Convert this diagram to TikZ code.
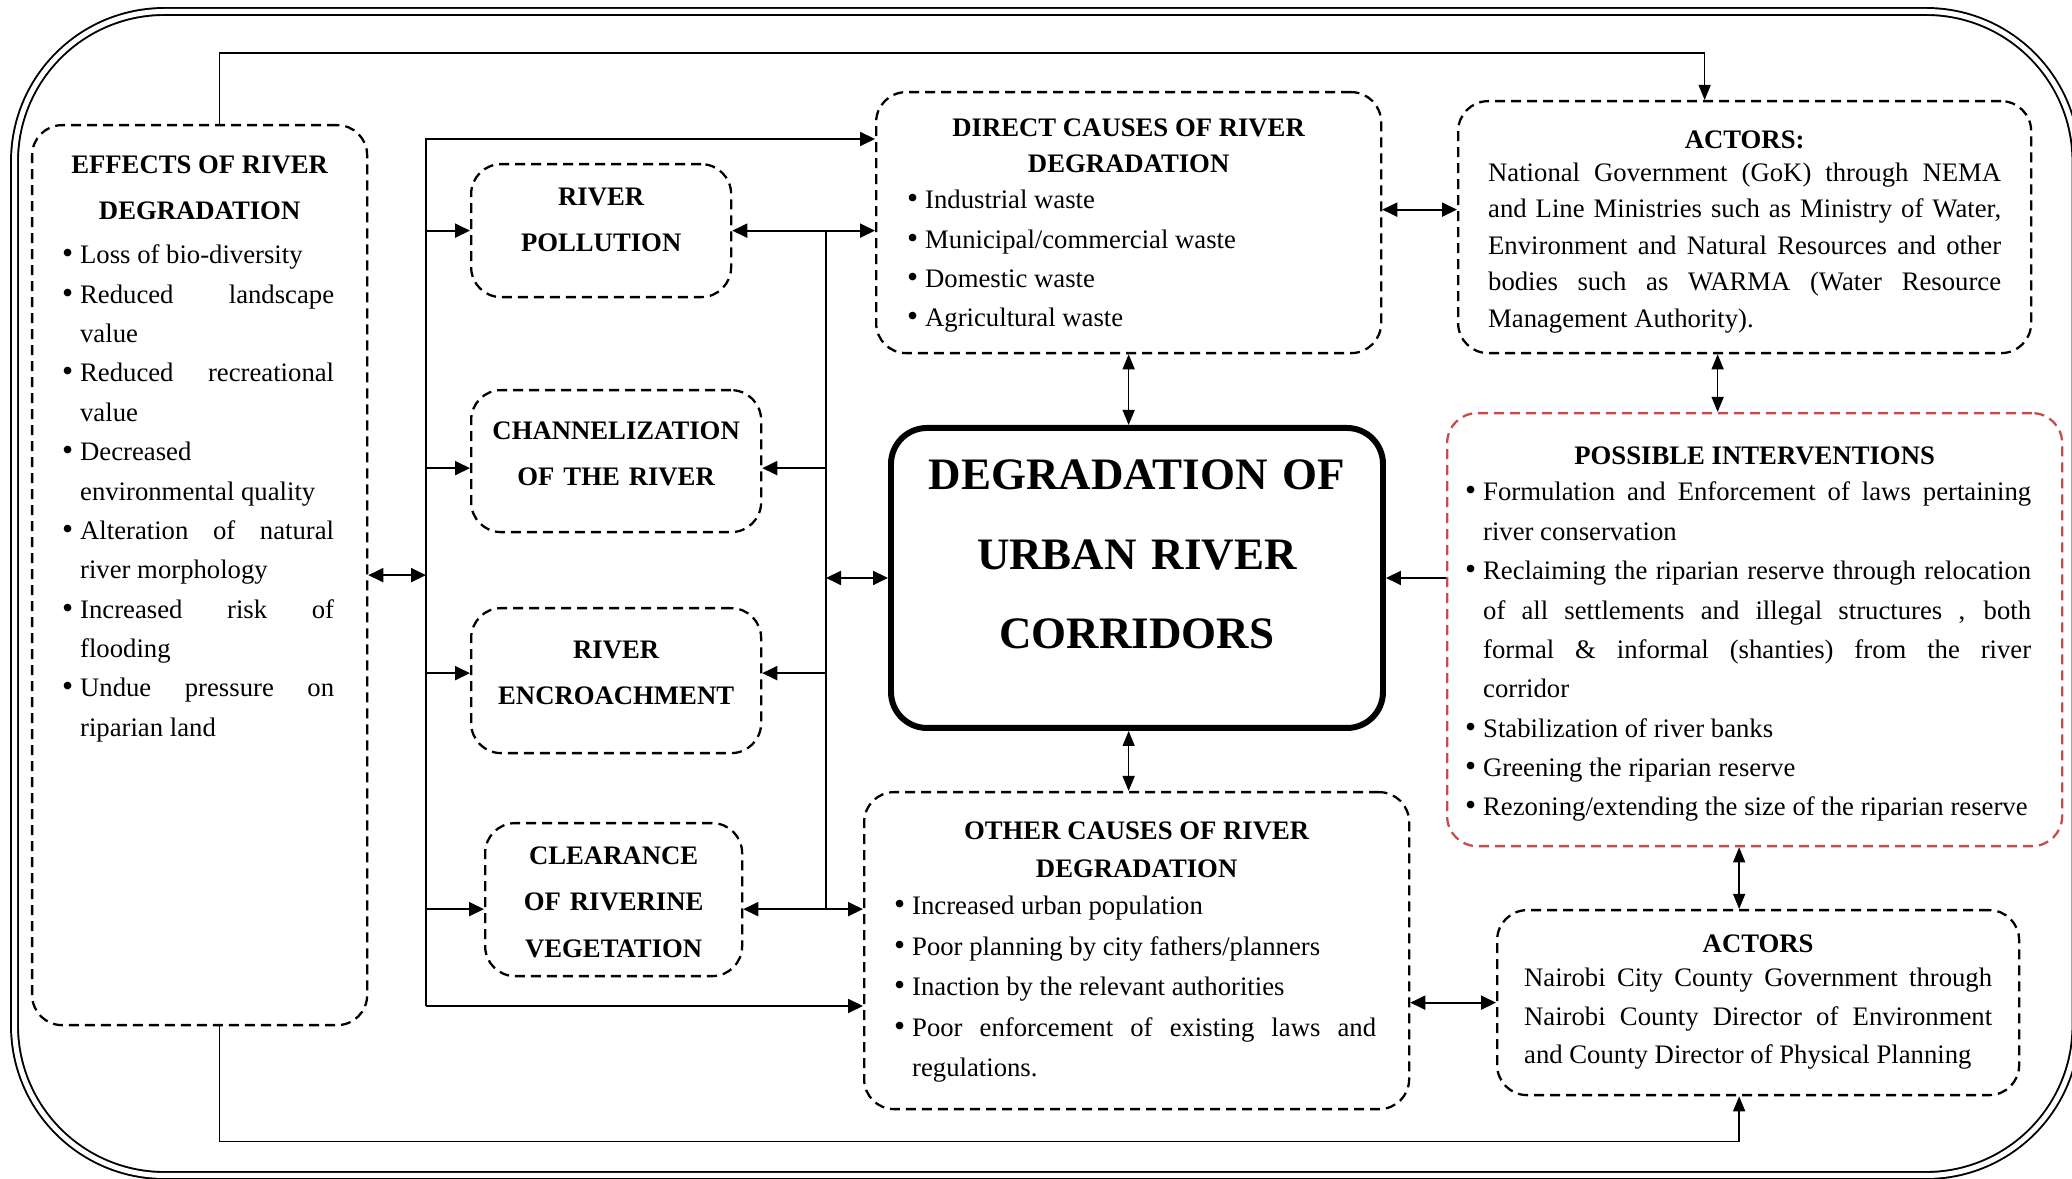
\documentclass[tikz,border=0pt]{standalone}
\usepackage{fontspec}
\setmainfont{Liberation Serif}
\usepackage{tikz}
\usetikzlibrary{arrows.meta}
\definecolor{ivred}{RGB}{200,75,75}
\newcommand{\bul}{\par\noindent\hangindent=0.15cm\hangafter=1\makebox[0.15cm][l]{\hspace{-0.03cm}{\fontsize{9}{9}\selectfont\textbullet}}}
\hyphenpenalty=10000
\exhyphenpenalty=10000
\tolerance=10000
\tikzset{
  dashbox/.style={rectangle, rounded corners=0.3cm, draw=black, line width=0.65pt, dash pattern=on 0.1cm off 0.06cm, inner ysep=0pt, anchor=north west},
  listbox/.style={dashbox, align=justify, font=\fontsize{7.6}{11.2}\selectfont},
  capbox/.style={dashbox, inner xsep=0pt, align=center, font=\fontsize{7.6}{13.3}\selectfont\bfseries},
  corebox/.style={rectangle, rounded corners=0.36cm, draw=black, line width=1.7pt, inner xsep=0.1cm, inner ysep=0pt, anchor=north west, align=center, font=\fontsize{12.8}{22.5}\selectfont\bfseries},
  outerframe/.style={rounded corners=1.5cm, double, line width=0.55pt, double distance=0.05cm},
  wire/.style={line width=0.5pt},
  arrow/.style={-{Triangle[length=0.15cm,width=0.14cm]}, line width=0.55pt},
  dblarrow/.style={{Triangle[length=0.15cm,width=0.14cm]}-{Triangle[length=0.15cm,width=0.14cm]}, line width=0.55pt},
  thinarrow/.style={-{Triangle[length=0.15cm,width=0.12cm]}, line width=0.4pt},
  dblthin/.style={{Triangle[length=0.15cm,width=0.12cm]}-{Triangle[length=0.15cm,width=0.12cm]}, line width=0.4pt},
}

\begin{document}
\begin{tikzpicture}
\useasboundingbox (0,0) rectangle (20.72,-11.79);
\draw[outerframe] (0.145,-0.115) rectangle (20.76,-11.755);
\node[listbox, text width=2.69cm, inner xsep=0.33cm, text height=0.48cm, text depth=8.52cm] (eff) at (0.31,-1.24) {{\centering\bfseries EFFECTS OF RIVER\\[0.07cm]DEGRADATION\\[0.05cm]}
\bul Loss of bio-diversity
\bul Reduced landscape\linebreak value
\bul Reduced recreational\linebreak value
\bul Decreased\\environmental quality
\bul Alteration of natural\linebreak river morphology
\bul Increased risk of\linebreak flooding
\bul Undue pressure on\linebreak riparian land\par};
\node[capbox, text width=2.60cm, text height=0.41cm, text depth=0.92cm] (pol) at (4.70,-1.63) {RIVER\\POLLUTION};
\node[capbox, text width=2.90cm, text height=0.49cm, text depth=0.93cm] (chan) at (4.70,-3.89) {CHANNELIZATION\\OF THE RIVER};
\node[capbox, text width=2.90cm, text height=0.50cm, text depth=0.95cm] (encr) at (4.70,-6.07) {RIVER\\ENCROACHMENT};
\node[capbox, text width=2.57cm, text height=0.41cm, text depth=1.12cm] (clear) at (4.84,-8.22) {CLEARANCE\\OF RIVERINE\\VEGETATION};
\node[listbox, text width=4.37cm, inner xsep=0.34cm, text height=0.44cm, text depth=2.17cm] (direct) at (8.75,-0.91) {{\centering\bfseries DIRECT CAUSES OF RIVER\\[-0.025cm]DEGRADATION\\[-0.035cm]}
\bul Industrial waste
\bul Municipal/commercial waste
\bul Domestic waste
\bul Agricultural waste\par};
\node[listbox, font=\fontsize{7.6}{10.4}\selectfont, text width=5.13cm, inner xsep=0.30cm, text height=0.47cm, text depth=2.05cm] (act) at (14.57,-1.00) {{\centering\bfseries ACTORS:\\[-0.035cm]}
National Government (GoK) through NEMA\linebreak and Line Ministries such as Ministry of Water,\linebreak Environment and Natural Resources and other\linebreak bodies such as WARMA (Water Resource\linebreak Management Authority).\par};
\node[corebox, text width=4.72cm, text height=0.62cm, text depth=2.38cm] (core) at (8.88,-4.25) {DEGRADATION OF\\URBAN RIVER\\CORRIDORS};
\node[listbox, draw=ivred, text width=5.73cm, inner xsep=0.21cm, text height=0.51cm, text depth=3.82cm] (interv) at (14.46,-4.12) {{\centering\bfseries POSSIBLE INTERVENTIONS\\[-0.025cm]}\rightskip=0.1cm
\bul Formulation and Enforcement of laws pertaining\linebreak river conservation
\bul Reclaiming the riparian reserve through relocation\linebreak of all settlements and illegal structures , both\linebreak formal \& informal (shanties) from the river\linebreak corridor
\bul Stabilization of river banks
\bul Greening the riparian reserve
\bul Rezoning/extending the size of the riparian reserve\par};
\node[listbox, font=\fontsize{7.6}{11.5}\selectfont, text width=4.79cm, inner xsep=0.33cm, text height=0.47cm, text depth=2.70cm] (other) at (8.63,-7.91) {{\centering\bfseries OTHER CAUSES OF RIVER\\[-0.025cm]DEGRADATION\\[-0.025cm]}
\bul Increased urban population
\bul Poor planning by city fathers/planners
\bul Inaction by the relevant authorities
\bul Poor enforcement of existing laws and\linebreak regulations.\par};
\node[listbox, font=\fontsize{7.6}{10.9}\selectfont, text width=4.68cm, inner xsep=0.27cm, text height=0.42cm, text depth=1.43cm] (act2) at (14.96,-9.09) {{\centering\bfseries ACTORS\\[-0.035cm]}
Nairobi City County Government through\linebreak Nairobi County Director of Environment\linebreak and County Director of Physical Planning\par};
\coordinate (lbus) at (4.26,-1.39);
\coordinate (lbusend) at (4.26,-10.06);
\coordinate (rbus) at (8.26,0);
\draw[arrow] (lbusend) -- (lbus) -- (lbus -| direct.west);
\draw[arrow] (lbusend) -- (lbusend -| other.west);
\draw[arrow] (lbus |- pol.west) -- (pol.west);
\draw[arrow] ([yshift=-0.07cm]chan.west -| lbus) -- ([yshift=-0.07cm]chan.west);
\draw[arrow] ([yshift=0.075cm]encr.west -| lbus) -- ([yshift=0.075cm]encr.west);
\draw[arrow] ([yshift=-0.095cm]clear.west -| lbus) -- ([yshift=-0.095cm]clear.west);
\draw[dblarrow] (eff.east) -- (eff.east -| lbus);
\draw[dblarrow] (pol.east) -- (pol.east -| direct.west);
\draw[dblarrow] ([yshift=-0.095cm]clear.east) -- ([yshift=-0.095cm]clear.east -| other.west);
\draw[wire] (rbus |- pol.east) -- ([yshift=-0.095cm]clear.east -| rbus);
\draw[arrow] ([yshift=-0.07cm]chan.east -| rbus) -- ([yshift=-0.07cm]chan.east);
\draw[arrow] ([yshift=0.075cm]encr.east -| rbus) -- ([yshift=0.075cm]encr.east);
\draw[dblarrow] (rbus |- core.west) -- (core.west);
\draw[dblthin] (direct.south) -- (direct.south |- core.north);
\draw[dblthin] (direct.south |- core.south) -- (direct.south |- other.north);
\draw[dblarrow] ([yshift=0.13cm]direct.east) -- ([yshift=0.13cm]direct.east -| act.west);
\draw[dblthin] ([xshift=-0.27cm]act.south) -- ([xshift=-0.27cm]act.south |- interv.north);
\draw[arrow] (core.east -| interv.west) -- (core.east);
\draw[dblthin] ([xshift=-0.19cm]act2.north) -- ([xshift=-0.19cm]act2.north |- interv.south);
\draw[dblarrow] (act2.west -| other.east) -- (act2.west);
\draw[thinarrow] ([xshift=0.2cm]eff.north) -- ++(0,0.71) -| ([xshift=-0.4cm]act.north);
\draw[thinarrow] ([xshift=0.2cm]eff.south) -- ++(0,-1.15) -| ([xshift=-0.19cm]act2.south);
\end{tikzpicture}
\end{document}
